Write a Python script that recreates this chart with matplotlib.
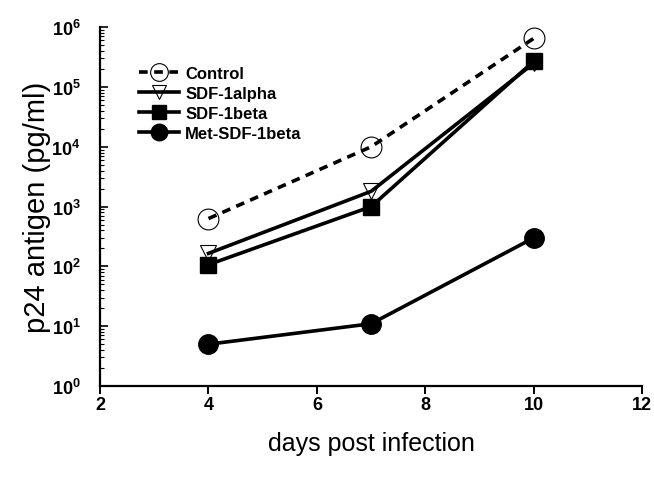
import matplotlib
matplotlib.use("Agg")
import matplotlib.pyplot as plt
from matplotlib.ticker import LogLocator, FixedLocator, NullFormatter

plt.rcParams['font.family'] = ['Liberation Sans', 'DejaVu Sans']

days = [4, 7, 10]
control = [630, 10000, 650000]
sdf1_alpha = [165, 1800, 250000]
sdf1_beta = [107, 1000, 270000]
met_sdf1_beta = [5, 11, 300]

fig = plt.figure(figsize=(6.54, 4.85), dpi=100)
ax = fig.add_axes([0.153, 0.202, 0.829, 0.740])

ax.plot(days, control, color='black', lw=2.6, ls=(0, (2.4, 1.8)),
        marker='o', ms=15, mfc='none', mec='black', mew=0.8, label='Control')
ax.plot(days, sdf1_alpha, color='black', lw=2.6,
        marker='v', ms=12, mfc='none', mec='black', mew=0.8, label='SDF-1alpha')
ax.plot(days, sdf1_beta, color='black', lw=2.6,
        marker='s', ms=12, mfc='black', mec='black', label='SDF-1beta')
ax.plot(days, met_sdf1_beta, color='black', lw=2.6,
        marker='o', ms=14, mfc='black', mec='black', label='Met-SDF-1beta')

ax.set_yscale('log')
ax.set_xlim(2, 12)
ax.set_ylim(1, 1e6)

ax.xaxis.set_major_locator(FixedLocator([2, 4, 6, 8, 10, 12]))
ax.yaxis.set_major_locator(LogLocator(base=10, numticks=10))
ax.yaxis.set_minor_locator(LogLocator(base=10, subs=range(2, 10), numticks=10))
ax.yaxis.set_minor_formatter(NullFormatter())

for s in ('top', 'right'):
    ax.spines[s].set_visible(False)
for s in ('left', 'bottom'):
    ax.spines[s].set_linewidth(1.6)

ax.tick_params(axis='x', direction='out', length=6, width=1.4,
               labelsize=13, pad=1)
ax.tick_params(axis='y', which='major', direction='in', length=6, width=1.2,
               labelsize=13, pad=14)
ax.tick_params(axis='y', which='minor', direction='in', length=3, width=0.8)
for lab in ax.get_xticklabels() + ax.get_yticklabels():
    lab.set_fontweight('bold')

ax.set_ylabel('p24 antigen (pg/ml)', fontsize=21, labelpad=0)
ax.set_xlabel('days post infection', fontsize=18, labelpad=13)

leg = ax.legend(loc='upper left', bbox_to_anchor=(0.06, 0.91), frameon=False,
                handlelength=2.4, handletextpad=0.35, labelspacing=0.3,
                markerscale=0.85, borderaxespad=0,
                prop={'weight': 'bold', 'size': 12})

fig.savefig('out.png', dpi=100)
